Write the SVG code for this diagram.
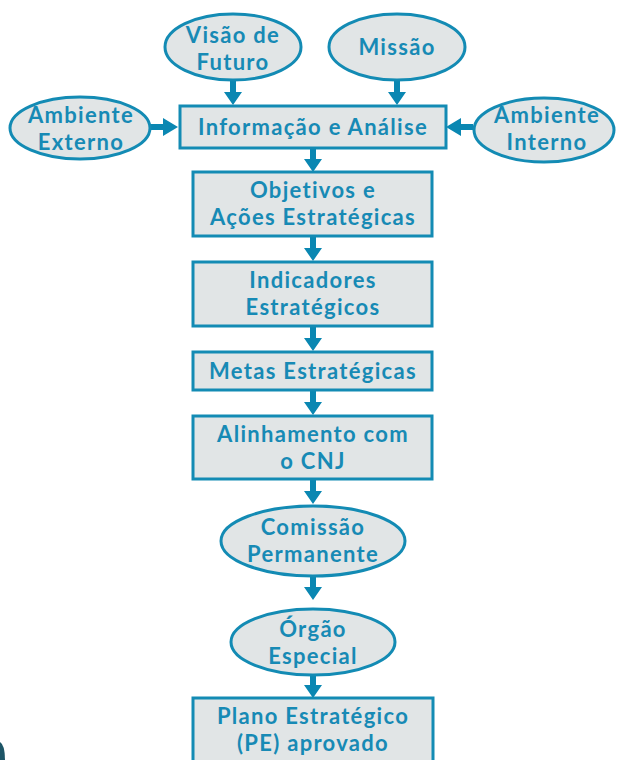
<svg xmlns="http://www.w3.org/2000/svg" width="617" height="760" viewBox="0 0 617 760">
<style>
.n{fill:#e1e5e6;stroke:#138bb4;stroke-width:3}
.t{font-family:Lato,"Open Sans",sans-serif;font-weight:bold;font-size:22px;letter-spacing:1.3px;fill:#178ab5;text-anchor:middle}
.a{fill:#0a87b2}
</style>
<defs>
<path id="ad" d="M-3,0 h6 v11 h6 l-9,13 l-9,-13 h6 z"/>
</defs>
<rect width="617" height="760" fill="#fff"/>
<g id="connectors" class="a">
<use href="#ad" x="233" y="81"/>
<use href="#ad" x="397" y="81"/>
<use href="#ad" x="313" y="148"/>
<use href="#ad" x="313" y="237"/>
<use href="#ad" x="313" y="327"/>
<use href="#ad" x="313" y="391"/>
<use href="#ad" x="313" y="480"/>
<use href="#ad" x="313" y="576"/>
<use href="#ad" x="313" y="674"/>
<path d="M151,124 h12 v-6 l15,9 l-15,9 v-6 h-12 z"/>
<path d="M473,124 h-12 v-6 l-15,9 l15,9 v-6 h12 z"/>
</g>
<g id="visao"><ellipse class="n" cx="233" cy="47" rx="68" ry="33"/><text class="t" x="233" y="43">Visão de</text><text class="t" x="233" y="70">Futuro</text></g>
<g id="missao"><ellipse class="n" cx="397" cy="47" rx="68" ry="33"/><text class="t" x="397" y="55">Missão</text></g>
<g id="amb-externo"><ellipse class="n" cx="80" cy="128" rx="70" ry="31"/><text class="t" x="81" y="123">Ambiente</text><text class="t" x="81" y="150">Externo</text></g>
<g id="amb-interno"><ellipse class="n" cx="544" cy="130" rx="70" ry="32"/><text class="t" x="547" y="123">Ambiente</text><text class="t" x="547" y="150">Interno</text></g>
<g id="info"><rect class="n" x="180" y="106" width="266" height="42"/><text class="t" x="313" y="135">Informação e Análise</text></g>
<g id="objetivos"><rect class="n" x="193" y="172" width="239" height="64"/><text class="t" x="313" y="198">Objetivos e</text><text class="t" x="313" y="225">Ações Estratégicas</text></g>
<g id="indicadores"><rect class="n" x="193" y="262" width="239" height="64"/><text class="t" x="313" y="288">Indicadores</text><text class="t" x="313" y="315">Estratégicos</text></g>
<g id="metas"><rect class="n" x="193" y="352" width="239" height="38"/><text class="t" x="313" y="379">Metas Estratégicas</text></g>
<g id="alinhamento"><rect class="n" x="193" y="416" width="239" height="63"/><text class="t" x="313" y="442">Alinhamento com</text><text class="t" x="313" y="469">o CNJ</text></g>
<g id="comissao"><ellipse class="n" cx="313" cy="541" rx="92" ry="35"/><text class="t" x="313" y="535">Comissão</text><text class="t" x="313" y="562">Permanente</text></g>
<g id="orgao"><ellipse class="n" cx="313" cy="642" rx="82" ry="33"/><text class="t" x="313" y="637">Órgão</text><text class="t" x="313" y="664">Especial</text></g>
<g id="plano"><rect class="n" x="193" y="698" width="240" height="70"/><text class="t" x="313" y="724">Plano Estratégico</text><text class="t" x="313" y="751">(PE) aprovado</text></g>
<path d="M0,742 Q5,745 5,760 H0 Z" fill="#1d5566"/>
</svg>
